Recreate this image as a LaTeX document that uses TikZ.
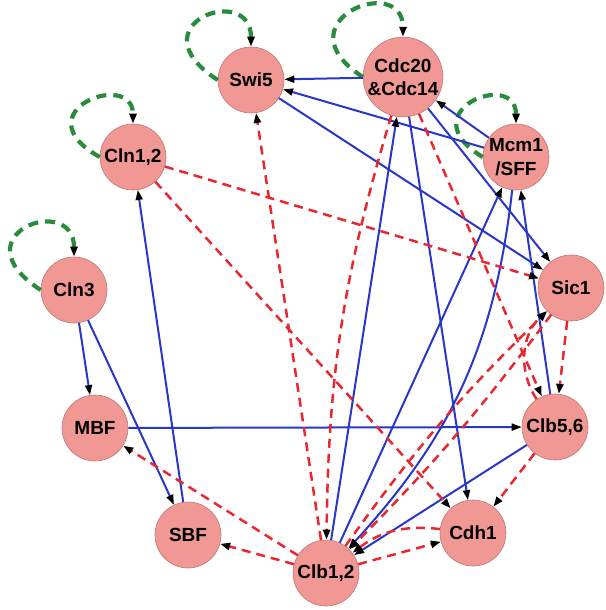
\documentclass[tikz,border=0pt]{standalone}
\usepackage{fontspec}
\setmainfont{Liberation Sans}
\usetikzlibrary{arrows.meta}
\definecolor{nodefill}{RGB}{242,152,148}
\definecolor{nodeedge}{RGB}{185,120,118}
\definecolor{actblue}{RGB}{40,55,200}
\definecolor{inhred}{RGB}{232,40,48}
\definecolor{loopgreen}{RGB}{40,140,60}
\begin{document}
\begin{tikzpicture}[x=1pt,y=-1pt,
 gene/.style={circle, fill=nodefill, draw=nodeedge, line width=0.6pt, minimum size=66pt, inner sep=0pt, font=\fontsize{19}{23.5}\selectfont\bfseries, align=center},
 tip/.style={-{Triangle[length=10pt,width=7pt,color=black]}},
 act/.style={tip, draw=actblue, line width=2pt},
 inh/.style={tip, draw=inhred, line width=2.5pt, dash pattern=on 9pt off 6pt},
 selfloop/.style={tip, draw=loopgreen, line width=4.2pt, dash pattern=on 10pt off 7pt},
]
\useasboundingbox (0,0) rectangle (605,610);
% nodes
\node[gene] (swi) at (251,80) {Swi5};
\node[gene] (cdc) at (403,77) {Cdc20\\\&Cdc14};
\node[gene] (cln12) at (133,157) {Cln1,2};
\node[gene] (mcm) at (516,157) {Mcm1\\/SFF};
\node[gene] (cln3) at (74,290) {Cln3};
\node[gene] (sic) at (571,288) {Sic1};
\node[gene] (mbf) at (95,428) {MBF};
\node[gene] (clb56) at (555,427) {Clb5,6};
\node[gene] (sbf) at (188,535) {SBF};
\node[gene] (cdh) at (473,533) {Cdh1};
\node[gene] (clb12) at (326,573) {Clb1,2};
% self loops
\draw[selfloop] (swi.west) .. controls +(-85,-55) and +(0,-65) .. (swi.north);
\draw[selfloop] (cdc.west) .. controls +(-85,-55) and +(0,-65) .. (cdc.north);
\draw[selfloop] (cln12.west) .. controls +(-80,-45) and +(0,-55) .. (cln12.north);
\draw[selfloop] (cln3.west) .. controls +(-85,-55) and +(0,-65) .. (cln3.north);
\draw[selfloop] (mcm.west) .. controls +(-75,-45) and +(0,-55) .. (mcm.north);
% activations
\draw[act] (cdc) -- (swi);
\draw[act] (mcm) -- (swi);
\draw[act] (mcm) -- (cdc);
\draw[act] (swi) -- (sic);
\draw[act] (cdc) -- (sic);
\draw[act] (cdc) -- (cdh);
\draw[act] (clb12) -- (cdc);
\draw[act] (clb12) -- (mcm);
\draw[act] (mcm) to[bend left=18] (clb12);
\draw[act] (clb56) -- (mcm);
\draw[act] (clb56) -- (clb12);
\draw[act] (mbf) -- (clb56);
\draw[act] (cln3) -- (mbf);
\draw[act] (cln3) -- (sbf);
\draw[act] (sbf) -- (cln12);
% inhibitions
\draw[inh] (cln12) -- (sic);
\draw[inh] (cln12) -- (cdh);
\draw[inh] (clb12) -- (mbf);
\draw[inh] (clb12) -- (sbf);
\draw[inh] (clb12) -- (swi);
\draw[inh] (clb12) to[bend left=5] (sic);
\draw[inh] (sic) to[bend left=4] (clb12);
\draw[inh] (clb12) -- (cdh);
\draw[inh] (cdh) to[bend right=22] (clb12);
\draw[inh] (clb56) -- (cdh);
\draw[inh] (sic) -- (clb56);
\draw[inh] (clb56) to[bend left=40] (sic);
\draw[inh] (cdc) to[bend right=8] (clb12);
\draw[inh] (cdc) -- (clb56);
\end{tikzpicture}
\end{document}
